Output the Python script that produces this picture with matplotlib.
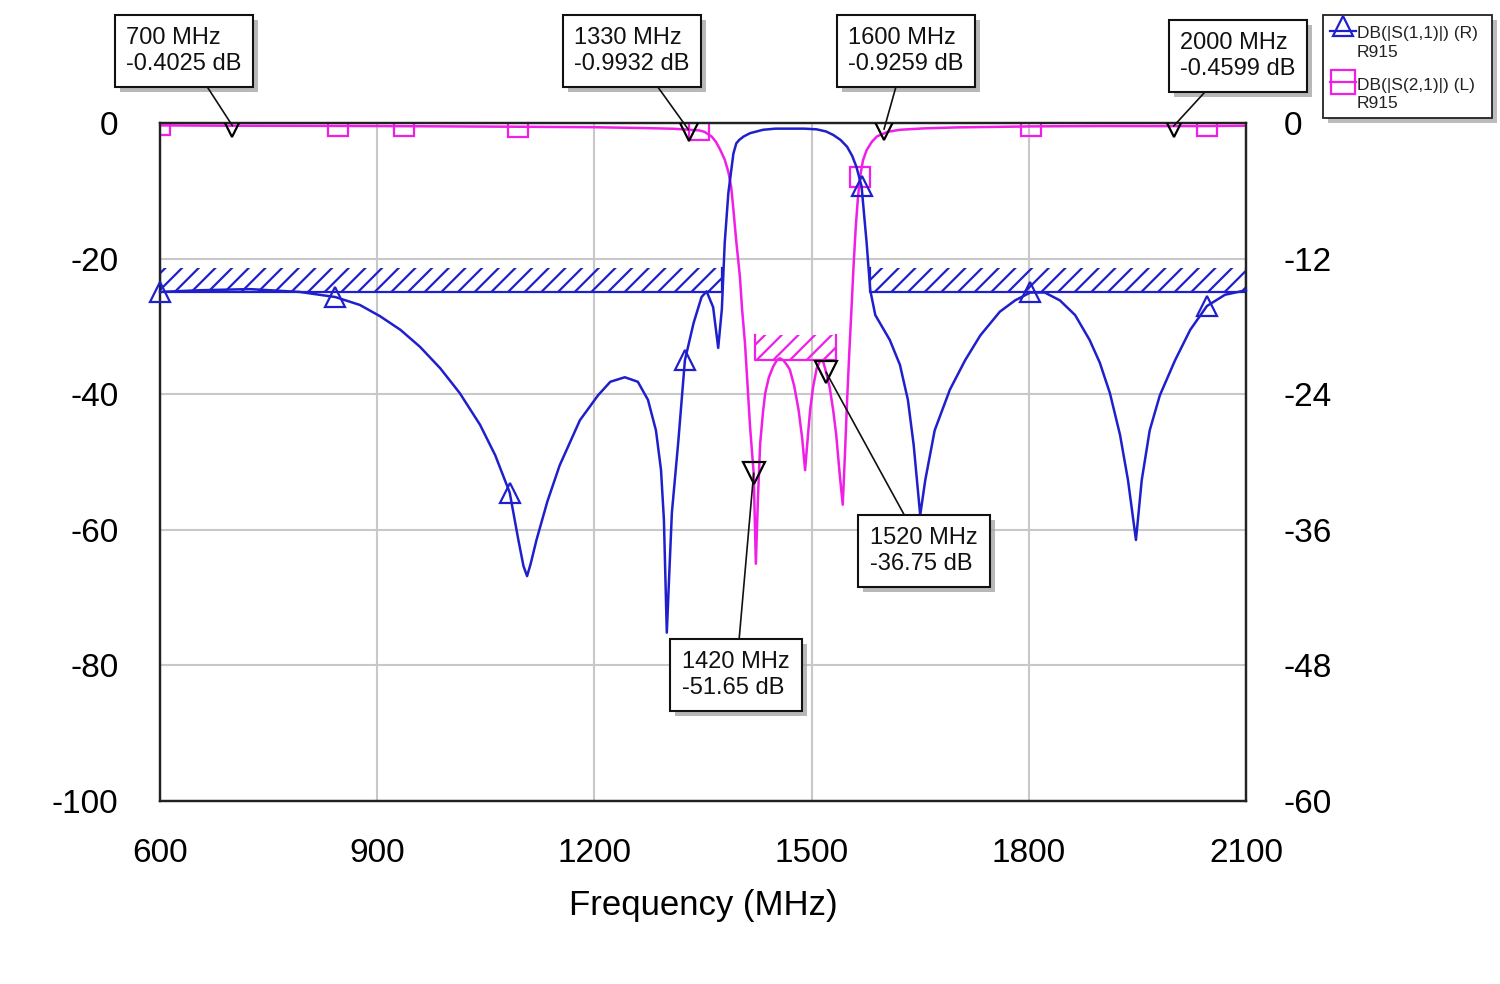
import numpy as np
import matplotlib
matplotlib.use("Agg")
import matplotlib.pyplot as plt
from matplotlib.patches import Rectangle
from matplotlib.lines import Line2D
from matplotlib.transforms import IdentityTransform

plt.rcParams['font.family'] = ['Liberation Sans', 'DejaVu Sans']
plt.rcParams['hatch.linewidth'] = 1.6

# ---------------- data ----------------
# S11 (blue, right axis, dB)
s11_freq = [600, 655, 724, 793, 842, 876, 904, 932, 959, 987, 1014, 1042, 1063, 1083,
            1095, 1102, 1107, 1112, 1120, 1135, 1152, 1180, 1205, 1222, 1242, 1260,
            1274, 1285, 1292, 1296, 1300, 1304, 1307, 1316, 1325, 1337, 1348, 1355,
            1364, 1371, 1376, 1380, 1385, 1392, 1396, 1400, 1406, 1415, 1433, 1450,
            1470, 1490, 1507, 1520, 1530, 1540, 1549, 1556, 1562, 1569, 1576, 1581,
            1588, 1608, 1622, 1633, 1641, 1650, 1657, 1670, 1691, 1712, 1733, 1760,
            1781, 1802, 1822, 1843, 1864, 1884, 1898, 1912, 1926, 1937, 1948, 1956,
            1967, 1981, 2002, 2023, 2046, 2071, 2100]
s11_db = [-14.95, -14.8, -14.7, -14.95, -15.4, -16.1, -17.1, -18.3, -19.8, -21.7, -23.9,
          -26.7, -29.4, -32.7, -36.9, -39.2, -40.1, -39.0, -36.9, -33.5, -30.3, -26.3,
          -24.1, -22.9, -22.5, -22.9, -24.5, -27.2, -30.7, -35.1, -45.1, -39.0, -34.5,
          -28.1, -21.0, -17.7, -15.4, -14.9, -16.3, -19.9, -16.5, -10.6, -6.2, -2.7,
          -1.8, -1.5, -1.2, -0.9, -0.6, -0.5, -0.5, -0.5, -0.56, -0.75, -1.06, -1.5,
          -2.1, -2.9, -3.9, -5.6, -10.6, -14.8, -17.0, -19.2, -21.4, -24.5, -28.5,
          -34.7, -31.6, -27.2, -23.6, -21.0, -18.8, -16.7, -15.7, -15.0, -15.0, -15.7,
          -17.0, -19.2, -21.2, -23.9, -27.6, -31.6, -36.9, -31.6, -27.2, -24.1, -21.0,
          -18.3, -16.2, -15.2, -14.8]
s11_mark_freq = [600, 842, 1083, 1325, 1569, 1802, 2046]

# S21 (magenta, left axis, dB)
s21_freq = [600, 700, 800, 846, 900, 937, 1000, 1094, 1200, 1270, 1310, 1330, 1345,
            1352, 1362, 1368, 1374, 1380, 1385, 1389, 1392, 1396, 1401, 1404, 1408,
            1412, 1415, 1420, 1423, 1426, 1429, 1433, 1436, 1441, 1447, 1452, 1456,
            1461, 1466, 1470, 1476, 1482, 1487, 1491, 1495, 1498, 1502, 1507, 1512,
            1516, 1520, 1525, 1530, 1534, 1539, 1543, 1546, 1549, 1552, 1555, 1558,
            1561, 1564, 1567, 1571, 1576, 1583, 1590, 1605, 1622, 1654, 1700, 1803,
            1900, 2000, 2046, 2100]
s21_db = [-0.35, -0.40, -0.42, -0.43, -0.45, -0.47, -0.5, -0.55, -0.62, -0.75, -0.85,
          -0.99, -1.1, -1.3, -2.0, -2.8, -4.0, -5.4, -7.2, -9.5, -12.8, -17.5, -22.7,
          -27.5, -32.5, -39.5, -44.8, -51.65, -65.0, -55.0, -47.2, -42.5, -39.8, -37.5,
          -35.9, -35.0, -34.7, -35.0, -35.7, -36.4, -38.8, -42.3, -46.5, -51.2, -46.0,
          -42.3, -39.0, -36.2, -35.0, -35.2, -36.75, -39.0, -42.5, -46.0, -52.0, -56.3,
          -49.0, -41.0, -34.0, -27.6, -21.0, -15.3, -11.0, -7.9, -5.5, -4.0, -2.8, -2.0,
          -1.3, -1.0, -0.8, -0.65, -0.5, -0.45, -0.46, -0.45, -0.4]
s21_mark_freq = [600, 846, 937, 1094, 1345, 1567, 1803, 2046]

# limit lines
s11_limit_db = -15.0
s11_limit_ranges = [(600, 1376), (1581, 2100)]
s11_limit_height = 2.2
s21_limit_db = -35.0
s21_limit_range = (1422, 1534)
s21_limit_height = 3.7

# markers
mk_freq = [700, 1330, 1600, 2000, 1420, 1520]
mk_db = [-0.4025, -0.9932, -0.9259, -0.4599, -51.65, -36.75]
mk_labels = ["700 MHz\n-0.4025 dB", "1330 MHz\n-0.9932 dB", "1600 MHz\n-0.9259 dB",
             "2000 MHz\n-0.4599 dB", "1420 MHz\n-51.65 dB", "1520 MHz\n-36.75 dB"]
mk_box_px = [(184, 51), (632, 51), (906, 51), (1238, 56), (736, 675), (924, 551)]

x_ticks = [600, 900, 1200, 1500, 1800, 2100]
yl_ticks = [0, -20, -40, -60, -80, -100]
yr_ticks = [0, -12, -24, -36, -48, -60]

legend_labels = ["DB(|S(1,1)|) (R)", "R915", "DB(|S(2,1)|) (L)", "R915"]

BLUE = '#1f1fcc'
MAG = '#f01ee6'
SHADOW = '#a0a0a0'

W, H = 1500, 984
fig = plt.figure(figsize=(15, 9.84), dpi=100)
fig.patch.set_facecolor('white')

def fx(px):
    return px / W

def fy(py):
    return 1 - py / H

top, bot, left, right = 123, 801, 160, 1246
ax = fig.add_axes([fx(left), fy(bot), fx(right) - fx(left), fy(top) - fy(bot)])
ax2 = ax.twinx()

ax.set_xlim(600, 2100)
ax.set_ylim(-100, 0)
ax2.set_ylim(-60, 0)
ax.set_xticks(x_ticks)
ax.set_yticks(yl_ticks)
ax2.set_yticks(yr_ticks)
ax.set_xticklabels([str(t) for t in x_ticks])
ax.set_yticklabels([str(t) for t in yl_ticks])
ax2.set_yticklabels([str(t) for t in yr_ticks])
ax.tick_params(axis='both', length=0, labelsize=24)
ax.tick_params(axis='y', pad=30)
ax.tick_params(axis='x', pad=27)
ax2.tick_params(axis='y', length=0, labelsize=24, pad=27)
ax.grid(True, color='#c8c8c8', lw=1.5)
ax.set_axisbelow(True)
for a in (ax, ax2):
    for s in a.spines.values():
        s.set_color('#222222')
        s.set_linewidth(1.6)

ax.set_xlabel("Frequency (MHz)", fontsize=25)
ax.xaxis.set_label_coords(0.5, (bot - 905) / (bot - top))
ax.xaxis.label.set_va('center')

# S21 on left axis
idx21 = [s21_freq.index(f) for f in s21_mark_freq]
ax.plot(s21_freq, s21_db, color=MAG, lw=1.8, marker='s', markersize=14,
        markerfacecolor='none', markeredgecolor=MAG, markeredgewidth=1.6,
        markevery=idx21, zorder=3)

# S21 limit
x0, x1 = s21_limit_range
ax.add_patch(Rectangle((x0, s21_limit_db), x1 - x0, s21_limit_height, fill=False,
                       hatch='//', edgecolor=MAG, linewidth=0, zorder=2))
ax.plot([x0, x0, x1, x1], [s21_limit_db + s21_limit_height, s21_limit_db, s21_limit_db,
                           s21_limit_db + s21_limit_height], color=MAG, lw=1.6, zorder=2)

# S11 on right axis
idx11 = [s11_freq.index(f) for f in s11_mark_freq]
ax2.plot(s11_freq, s11_db, color=BLUE, lw=1.8, marker='^', markersize=15,
         markerfacecolor='none', markeredgecolor=BLUE, markeredgewidth=1.6,
         markevery=idx11, zorder=3, clip_on=False)
for (x0, x1) in s11_limit_ranges:
    ax2.add_patch(Rectangle((x0, s11_limit_db), x1 - x0, s11_limit_height, fill=False,
                            hatch='//', edgecolor=BLUE, linewidth=0, zorder=2))
    ax2.plot([x0, x0, x1, x1], [s11_limit_db + s11_limit_height, s11_limit_db,
                                s11_limit_db, s11_limit_db + s11_limit_height],
             color=BLUE, lw=1.6, zorder=2)

# marker triangles (left axis values)
ax2.plot(mk_freq, mk_db, linestyle='none', marker='v', markersize=16,
         markerfacecolor='none', markeredgecolor='black', markeredgewidth=1.6,
         transform=ax.transData, zorder=5)
ax2.set_xlim(600, 2100)
ax2.set_ylim(-60, 0)

anns = []
for f, v, lab, (bx, by) in zip(mk_freq, mk_db, mk_labels, mk_box_px):
    a = ax2.annotate(lab, xy=(f, v), xycoords=ax.transData,
                     xytext=(bx, H - by), textcoords='figure pixels',
                     ha='center', va='center', multialignment='left', fontsize=17,
                     linespacing=1.25, color='#111111',
                     bbox=dict(boxstyle='square,pad=0.5', fc='white', ec='#111111', lw=1.5),
                     arrowprops=dict(arrowstyle='-', color='#111111', lw=1.2,
                                     shrinkA=0, shrinkB=0),
                     zorder=7)
    anns.append(a)

# legend (manual)
lx0, lx1, ly0, ly1 = 1323, 1492, 15, 118
fig.add_artist(Rectangle((fx(lx0 + 5), fy(ly1 + 5)), fx(lx1) - fx(lx0), fy(ly0) - fy(ly1),
                         transform=fig.transFigure, fc=SHADOW, ec='none', alpha=0.7))
fig.add_artist(Rectangle((fx(lx0), fy(ly1)), fx(lx1) - fx(lx0), fy(ly0) - fy(ly1),
                         transform=fig.transFigure, fc='white', ec='#222222', lw=1.3))
fig.add_artist(Line2D([fx(1330), fx(1356)], [fy(31), fy(31)], transform=fig.transFigure,
                      color=BLUE, lw=1.6))
fig.add_artist(Line2D([fx(1343)], [fy(26)], transform=fig.transFigure, marker='^',
                      markersize=15, markerfacecolor='none', markeredgecolor=BLUE,
                      markeredgewidth=1.6, linestyle='none'))
fig.add_artist(Line2D([fx(1330), fx(1356)], [fy(82), fy(82)], transform=fig.transFigure,
                      color=MAG, lw=1.6))
fig.add_artist(Line2D([fx(1343)], [fy(82)], transform=fig.transFigure, marker='s',
                      markersize=17, markerfacecolor='none', markeredgecolor=MAG,
                      markeredgewidth=1.6, linestyle='none'))
for lab, by in zip(legend_labels, [38, 57, 90, 108]):
    fig.text(fx(1357), fy(by), lab, fontsize=12.5, va='baseline', ha='left', color='#222222')

# drop shadows for the marker boxes
fig.canvas.draw()
renderer = fig.canvas.get_renderer()
for a in anns:
    bb = a.get_bbox_patch().get_window_extent(renderer)
    sh = Rectangle((bb.x0 + 5, bb.y0 - 5), bb.width, bb.height, transform=IdentityTransform(),
                   fc=SHADOW, ec='none', alpha=0.75, zorder=6)
    ax2.add_artist(sh)
    sh.set_clip_on(False)

fig.savefig("out.png", dpi=100, facecolor='white')
